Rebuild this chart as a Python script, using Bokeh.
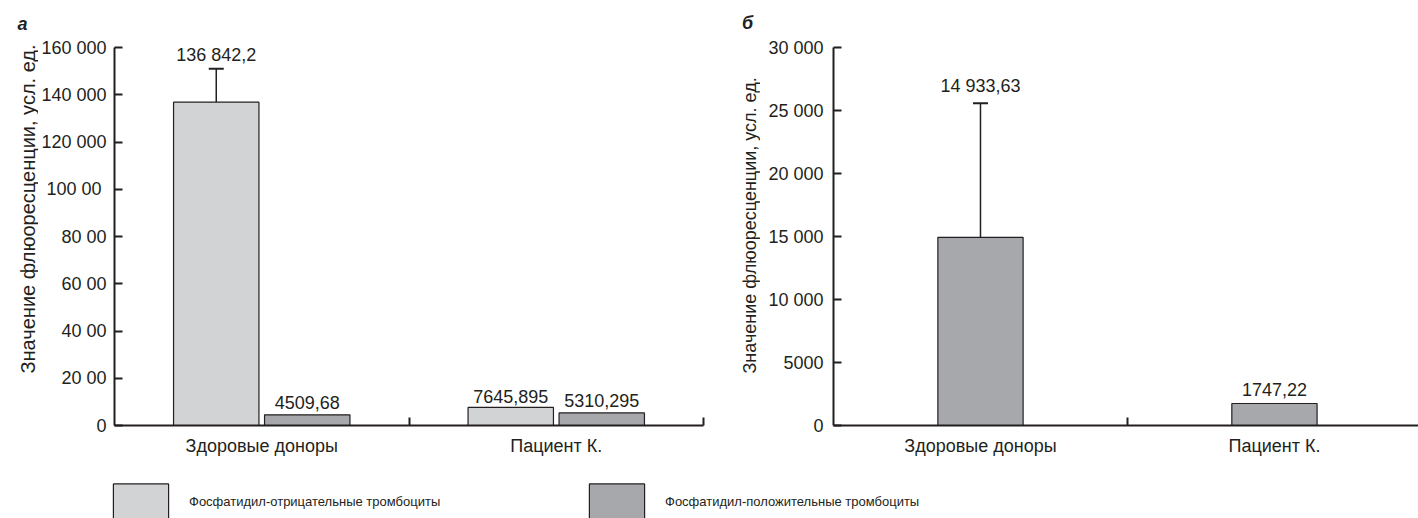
import math
from bokeh.plotting import figure
from bokeh.layouts import column, row
from bokeh.models import (ColumnDataSource, FixedTicker, Whisker, TeeHead, Label,
                          Legend, LegendItem, Range1d)
from bokeh.core.properties import value
from bokeh.embed import file_html
from bokeh.resources import INLINE

# ---------------- data ----------------
categories = ["Здоровые доноры", "Пациент К."]
series_names = ["Фосфатидил-отрицательные тромбоциты", "Фосфатидил-положительные тромбоциты"]

# panel а
a_negative = [136842.2, 7645.895]
a_positive = [4509.68, 5310.295]
a_negative_err = [14150.0, 0.0]
a_negative_labels = ["136 842,2", "7645,895"]
a_positive_labels = ["4509,68", "5310,295"]
a_y_ticks = [0, 20000, 40000, 60000, 80000, 100000, 120000, 140000, 160000]
a_y_tick_labels = ["0", "20 00", "40 00", "60 00", "80 00", "100  00", "120 000", "140 000", "160 000"]

# panel б
b_positive = [14933.63, 1747.22]
b_positive_err = [10650.0, 0.0]
b_positive_labels = ["14 933,63", "1747,22"]
b_y_ticks = [0, 5000, 10000, 15000, 20000, 25000, 30000]
b_y_tick_labels = ["0", "5000", "10 000", "15 000", "20 000", "25 000", "30 000"]

y_title = "Значение флюоресценции, усл. ед."
panel_letters = ["а", "б"]

# ---------------- style ----------------
FONT = "Liberation Sans"
TEXT = "#231f20"
EDGE = "#231f20"
LIGHT = "#d2d3d5"
DARK = "#a6a8ab"
BAR_W = 0.29
DODGE = 0.1545
H = 460

cat_pos = [i + 0.5 for i in range(len(categories))]
cat_bounds = [i + 1.0 for i in range(len(categories))]


def blank(width, height, **kw):
    p = figure(width=width, height=height, x_range=Range1d(0, 1), y_range=Range1d(0, 1),
               output_backend="svg", toolbar_location=None,
               x_axis_location=None, y_axis_location=None, **kw)
    p.title.visible = False
    p.grid.visible = False
    p.outline_line_color = None
    p.background_fill_color = "white"
    p.border_fill_color = "white"
    p.frame_align = False
    return p


def make_panel(width, height, ymax, yticks, ylabels, xend, bl, br, ystandoff):
    p = figure(width=width, height=height, x_range=Range1d(0, xend), y_range=Range1d(0, ymax),
               output_backend="svg", toolbar_location=None,
               min_border_left=bl, min_border_right=br, min_border_top=47, min_border_bottom=35)
    p.frame_align = False
    p.title.visible = False
    p.xgrid.visible = False
    p.ygrid.visible = False
    p.outline_line_color = None
    p.background_fill_color = "white"
    p.border_fill_color = "white"

    ya = p.yaxis[0]
    ya.ticker = FixedTicker(ticks=yticks)
    ya.major_label_overrides = dict(zip(yticks, ylabels))
    ya.major_tick_in = 8
    ya.major_tick_out = 0
    ya.minor_tick_in = 0
    ya.minor_tick_out = 0
    ya.axis_line_width = 2
    ya.axis_line_color = EDGE
    ya.major_tick_line_width = 2
    ya.major_tick_line_color = EDGE
    ya.major_label_standoff = ystandoff
    ya.major_label_text_font = FONT
    ya.major_label_text_font_size = "18px"
    ya.major_label_text_color = TEXT

    xa = p.xaxis[0]
    xa.ticker = FixedTicker(ticks=cat_pos, minor_ticks=cat_bounds)
    xa.major_label_overrides = dict(zip(cat_pos, categories))
    xa.major_tick_in = 0
    xa.major_tick_out = 0
    xa.minor_tick_in = 8
    xa.minor_tick_out = 0
    xa.minor_tick_line_width = 2
    xa.minor_tick_line_color = EDGE
    xa.axis_line_width = 2
    xa.axis_line_color = EDGE
    xa.major_label_standoff = 10
    xa.major_label_text_font = FONT
    xa.major_label_text_font_size = "18px"
    xa.major_label_text_color = TEXT
    return p


def add_bars(p, xs, vals, errs, labels, color, label_offset):
    tops = [v + e for v, e in zip(vals, errs)]
    src = ColumnDataSource(dict(x=xs, top=vals, ytext=tops, label=labels))
    p.vbar(x="x", top="top", bottom=0, width=BAR_W, source=src,
           fill_color=color, line_color=EDGE, line_width=1.2)
    ex = [x for x, e in zip(xs, errs) if e > 0]
    if ex:
        el = [v for v, e in zip(vals, errs) if e > 0]
        eu = [v + e for v, e in zip(vals, errs) if e > 0]
        esrc = ColumnDataSource(dict(x=ex, lower=el, upper=eu))
        w = Whisker(source=esrc, base="x", lower="lower", upper="upper", dimension="height",
                    line_color=EDGE, line_width=1.5,
                    upper_head=TeeHead(size=15, line_color=EDGE, line_width=2), lower_head=None)
        p.add_layout(w)
    p.text(x="x", y="ytext", text="label", source=src, text_align="center",
           text_baseline="bottom", y_offset=label_offset, text_font=value(FONT),
           text_font_size="18px", text_color=TEXT)


def title_strip(width, letter, lx, ly, tx, ty, tsize):
    s = blank(width, H, min_border=0)
    # screen units: measured from the frame's bottom-left corner, y upwards
    s.add_layout(Label(x=lx, y=ly, x_units="screen", y_units="screen", text=letter,
                       text_font=FONT, text_font_size="18px", text_font_style="bold italic",
                       text_color=TEXT, text_align="center", text_baseline="middle"))
    s.add_layout(Label(x=tx, y=ty, x_units="screen", y_units="screen", text=y_title,
                       angle=math.pi / 2, text_font=FONT, text_font_size=tsize,
                       text_color=TEXT, text_align="left", text_baseline="alphabetic"))
    return s


# ---------------- panel а ----------------
s1 = title_strip(38, panel_letters[0], 22, H - 23, 27, H - 373, "20px")
p1 = make_panel(682, H, 160000, a_y_ticks, a_y_tick_labels, 2.0, 76, 17, 8)
add_bars(p1, [c - DODGE for c in cat_pos], a_negative, a_negative_err, a_negative_labels, LIGHT, -4)
add_bars(p1, [c + DODGE for c in cat_pos], a_positive, [0.0] * len(a_positive), a_positive_labels, DARK, -6)

# ---------------- panel б ----------------
s2 = title_strip(40, panel_letters[1], 27, H - 22, 29.6, H - 373, "18px")
p2 = make_panel(658, H, 30000, b_y_ticks, b_y_tick_labels, 1.99, 73, 0, 10)
add_bars(p2, cat_pos, b_positive, b_positive_err, b_positive_labels, DARK, -7)

# ---------------- legend ----------------
p3 = blank(1418, 518 - H, min_border_left=106, min_border_top=19, min_border_bottom=0,
           min_border_right=0)
# legend proxies (hidden renderers, shown only as legend swatches)
r1 = p3.vbar(x=[0.5], top=[1], width=0.3, fill_color=LIGHT, line_color=EDGE, line_width=1.2)
r2 = p3.vbar(x=[0.5], top=[1], width=0.3, fill_color=DARK, line_color=EDGE, line_width=1.2)
r1.visible = False
r2.visible = False
legend = Legend(items=[LegendItem(label=series_names[0], renderers=[r1]),
                       LegendItem(label=series_names[1], renderers=[r2])],
                location="top_left", orientation="horizontal",
                glyph_width=69, glyph_height=44, label_standoff=14, label_width=393,
                spacing=0, padding=0, margin=0, border_line_color=None,
                background_fill_alpha=0, label_text_font=FONT,
                label_text_font_size="13px", label_text_color=TEXT)
p3.add_layout(legend)

layout = column(row(s1, p1, s2, p2), p3)
open("out.html", "w").write(file_html(layout, INLINE))
